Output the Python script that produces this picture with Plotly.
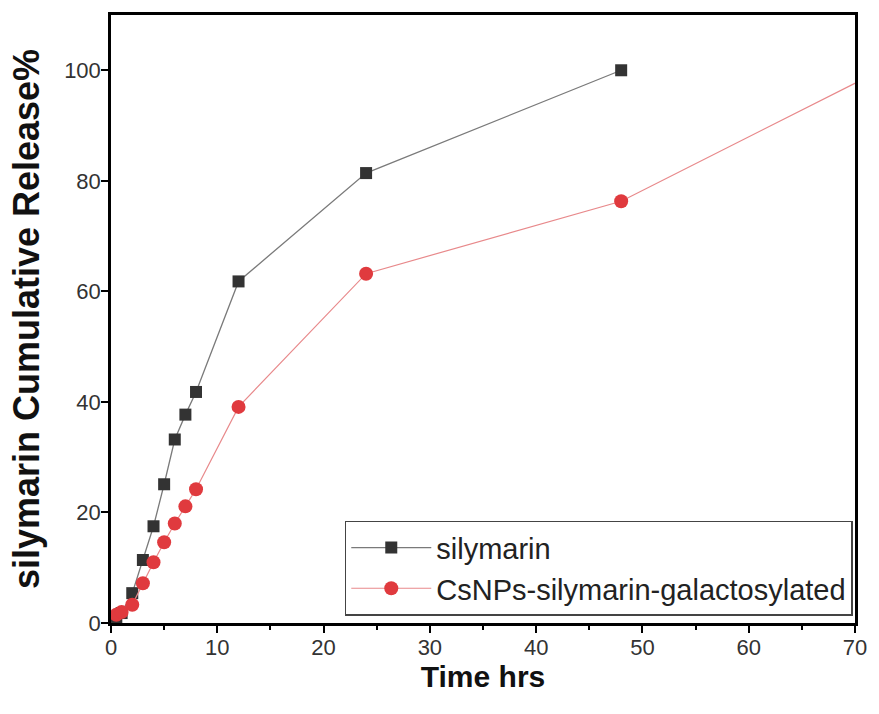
import plotly.graph_objects as go

# Data
time_silymarin = [0.5, 1, 2, 3, 4, 5, 6, 7, 8, 12, 24, 48]
release_silymarin = [1.0, 1.8, 5.4, 11.4, 17.5, 25.1, 33.2, 37.7, 41.8, 61.8, 81.4, 100.0]

time_cs = [0.5, 1, 2, 3, 4, 5, 6, 7, 8, 12, 24, 48, 72]
release_cs = [1.5, 2.0, 3.3, 7.2, 11.0, 14.6, 18.0, 21.1, 24.2, 39.1, 63.2, 76.3, 99.6]

x_ticks = [0, 10, 20, 30, 40, 50, 60, 70]
y_ticks = [0, 20, 40, 60, 80, 100]

fig = go.Figure()
fig.add_trace(go.Scatter(
    x=time_silymarin, y=release_silymarin, mode="lines+markers",
    name="silymarin",
    line=dict(color="#7a7a7a", width=1.3),
    marker=dict(symbol="square", size=12, color="#333333"),
))
fig.add_trace(go.Scatter(
    x=time_cs, y=release_cs, mode="lines+markers",
    name="CsNPs-silymarin-galactosylated",
    line=dict(color="#e8898b", width=1.2),
    marker=dict(symbol="circle", size=14, color="#e03a3e"),
))

axis_common = dict(
    showline=True, linecolor="black", linewidth=2.5, mirror=True,
    ticks="outside", ticklen=7, tickwidth=2, tickcolor="black",
    showgrid=False, zeroline=False,
    tickfont=dict(family="Arial, Liberation Sans", size=22, color="#333333"),
)

fig.update_xaxes(
    range=[0, 70], tickvals=x_ticks,
    minor=dict(ticks="outside", dtick=5, ticklen=4, tickwidth=1.5, tickcolor="black"),
    ticklabelstandoff=-4,
    title=dict(text="<b>Time hrs</b>", font=dict(family="Arial, Liberation Sans", size=30, color="#111111"), standoff=0),
    **axis_common,
)
fig.update_yaxes(
    range=[0, 110], tickvals=y_ticks,
    ticklabelstandoff=-4,
    title=dict(text="<b>silymarin Cumulative Release%</b>", font=dict(family="Arial, Liberation Sans", size=36, color="#111111"), standoff=14),
    **axis_common,
)

fig.update_layout(
    width=879, height=700,
    margin=dict(l=111, r=14, t=13, b=77),
    plot_bgcolor="white", paper_bgcolor="white",
    legend=dict(
        x=0.997, xanchor="right", y=0.012, yanchor="bottom",
        bgcolor="white", bordercolor="#444444", borderwidth=1.5,
        font=dict(family="Arial, Liberation Sans", size=29, color="#222222"),
        itemwidth=80, tracegroupgap=0,
    ),
)

fig.write_html(
    "out.html",
    config={"displayModeBar": False},
    post_script="document.body.style.margin='0';",
)
